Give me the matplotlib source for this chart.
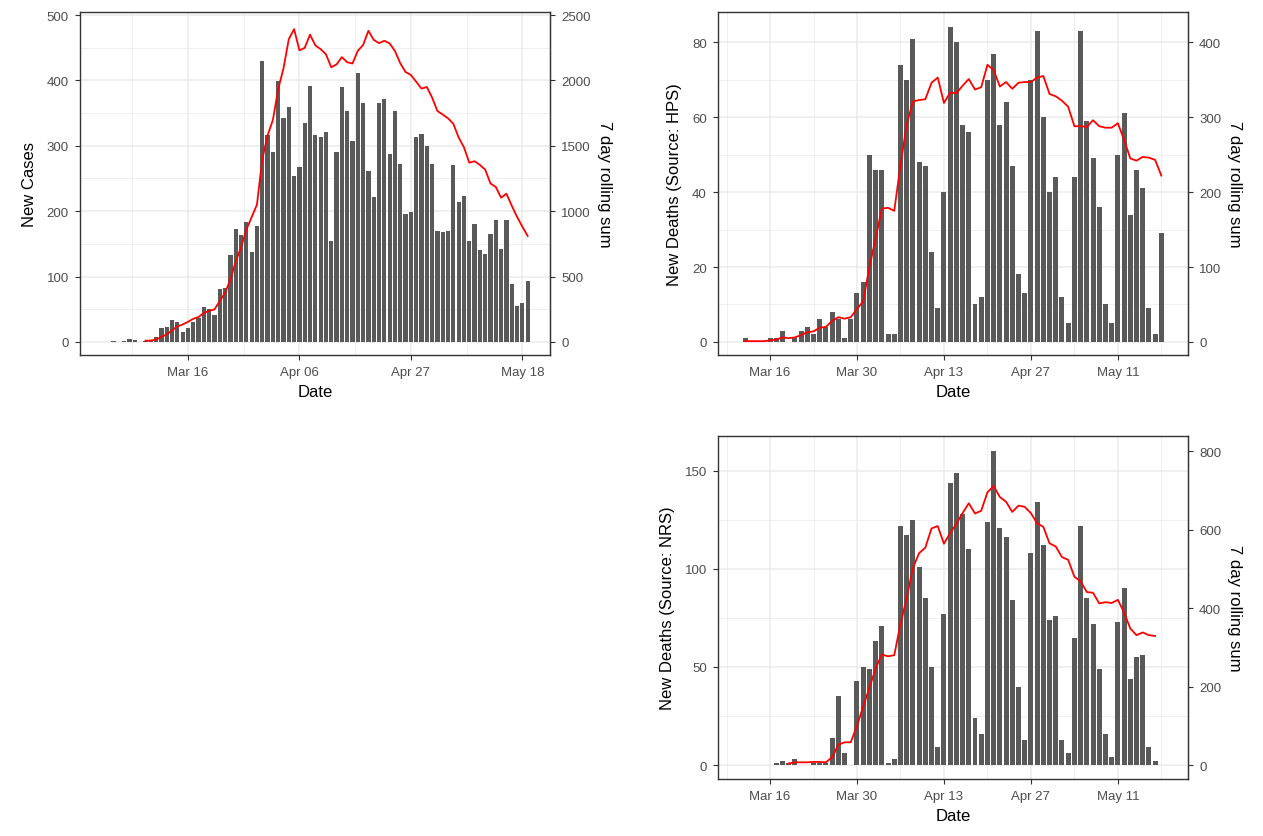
import numpy as np
import pandas as pd
import matplotlib
matplotlib.use('Agg')
import matplotlib.pyplot as plt
import matplotlib.dates as mdates

plt.rcParams['font.family'] = ['Liberation Sans', 'DejaVu Sans']

# new cases, 1 Mar - 19 May
cases_start = "2020-03-01"
cases = [0, 1, 0, 1, 4, 3, 0, 1, 2, 7, 22, 23, 34, 30, 16, 22, 30, 36, 54, 50,
         41, 81, 83, 133, 173, 163, 184, 137, 177, 429, 316, 291, 399, 343, 360, 254,
         267, 335, 392, 317, 314, 321, 154, 290, 390, 353, 307, 411, 366, 262, 221,
         365, 371, 287, 353, 272, 195, 199, 313, 318, 300, 272, 169, 168, 170, 271,
         214, 224, 155, 180, 140, 134, 165, 187, 142, 186, 88, 55, 59, 94]

# HPS deaths, 12 Mar - 18 May
hps_start = "2020-03-12"
hps = [1, 0, 0, 0, 1, 1, 3, 0, 1, 3, 4, 2, 6, 4, 8, 6, 1, 6, 13, 16, 50, 46, 46,
       2, 2, 74, 70, 81, 48, 47, 24, 9, 40, 84, 80, 58, 56, 10, 12, 70, 77, 58, 64,
       47, 18, 13, 70, 83, 60, 40, 44, 12, 5, 44, 83, 59, 49, 36, 10, 5, 50, 61, 34,
       46, 41, 9, 2, 29]

# NRS deaths, 17 Mar - 17 May
nrs_start = "2020-03-17"
nrs = [1, 2, 1, 3, 0, 0, 1, 1, 1, 14, 35, 6, 0, 43, 50, 49, 63, 71, 1, 3, 122,
       117, 125, 101, 85, 50, 9, 77, 144, 149, 128, 110, 24, 16, 124, 160, 121, 116,
       84, 40, 13, 108, 134, 112, 74, 76, 13, 6, 65, 122, 85, 72, 49, 16, 4, 73, 90,
       44, 55, 56, 9, 2]

W, H = 1263, 837
BAR = "#595959"
TXT = "#4d4d4d"


def panel(rect, start, vals, line_from, xlim, ylim, yticks, rticks, ylabel, xticks):
    L, T, R, B = rect
    ax = fig.add_axes([L / W, 1 - B / H, (R - L) / W, (B - T) / H])
    dates = pd.date_range(start, periods=len(vals), freq="D")
    s = pd.Series(vals, index=dates)
    roll = s.rolling(7, min_periods=1).sum()
    ax.bar(dates, vals, width=0.8, color=BAR, zorder=2)
    r = roll[roll.index >= pd.Timestamp(line_from)]
    ax.plot(r.index, r.values / 5, color="red", lw=1.3, zorder=3)
    ax.set_yticks(yticks)
    ax.set_yticks([(a + b) / 2 for a, b in zip(yticks[:-1], yticks[1:])], minor=True)
    xt = [mdates.datestr2num(d) for d in xticks]
    ax.set_xticks(xt)
    ax.set_xticklabels([pd.Timestamp(d).strftime("%b %d") for d in xticks])
    step = xt[1] - xt[0]
    ax.set_xticks([x - step / 2 for x in xt] + [xt[-1] + step / 2], minor=True)
    # limits after ticks, set_xticks widens the view otherwise
    ax.set_xlim(mdates.datestr2num(xlim[0]), mdates.datestr2num(xlim[1]))
    ax.set_ylim(*ylim)
    ax.grid(True, which="major", color="#ebebeb", lw=1.1, zorder=0)
    ax.grid(True, which="minor", color="#ebebeb", lw=0.55, zorder=0)
    ax.set_axisbelow(True)
    for sp in ax.spines.values():
        sp.set_color("#333333")
        sp.set_linewidth(1.0)
    ax.tick_params(which="major", colors="#333333", labelcolor=TXT, labelsize=9.5,
                   length=3.5, pad=4.5)
    ax.tick_params(which="minor", length=0)
    ax.set_xlabel("Date", fontsize=12, labelpad=4)
    ax.set_ylabel(ylabel, fontsize=12, labelpad=7)
    sec = ax.secondary_yaxis("right", functions=(lambda v: v * 5, lambda v: v / 5))
    sec.set_yticks(rticks)
    sec.tick_params(colors="#333333", labelcolor=TXT, labelsize=9.5, length=3.5, pad=4.5)
    sec.spines["right"].set_color("#333333")
    sec.set_ylabel("7 day rolling sum", fontsize=12, rotation=-90, labelpad=15)
    return ax


fig = plt.figure(figsize=(W / 100, H / 100), dpi=100)

panel((80, 13, 550, 356), cases_start, cases, "2020-03-08",
      ("2020-02-24 16:00", "2020-05-23 05:00"), (-19.9, 504.6),
      [0, 100, 200, 300, 400, 500], [0, 500, 1000, 1500, 2000, 2500],
      "New Cases", ["2020-03-16", "2020-04-06", "2020-04-27", "2020-05-18"])

dticks = ["2020-03-16", "2020-03-30", "2020-04-13", "2020-04-27", "2020-05-11"]
panel((718, 13, 1188, 356), hps_start, hps, "2020-03-12",
      ("2020-03-07 15:00", "2020-05-22 07:00"), (-3.5, 88.1),
      [0, 20, 40, 60, 80], [0, 100, 200, 300, 400],
      "New Deaths (Source: HPS)", dticks)

panel((718, 437, 1188, 780), nrs_start, nrs, "2020-03-19",
      ("2020-03-07 15:00", "2020-05-22 07:00"), (-7.1, 167.7),
      [0, 50, 100, 150], [0, 200, 400, 600, 800],
      "New Deaths (Source: NRS)", dticks)

fig.savefig("out.png", dpi=100)
